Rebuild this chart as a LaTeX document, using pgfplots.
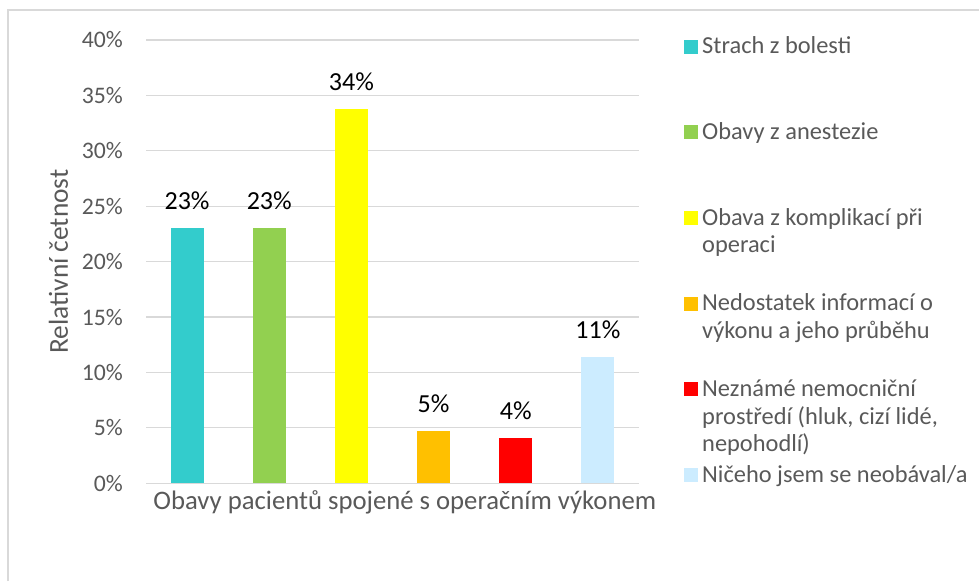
\documentclass[border=0pt]{standalone}
\usepackage{fontspec}
\setmainfont{Carlito}
\usepackage{pgfplots}
\pgfplotsset{compat=1.18}
\definecolor{txt}{HTML}{595959}
\definecolor{grd}{HTML}{D9D9D9}
\definecolor{c1}{HTML}{33CCCC}
\definecolor{c2}{HTML}{92D050}
\definecolor{c3}{HTML}{FFFF00}
\definecolor{c4}{HTML}{FFC000}
\definecolor{c5}{HTML}{FF0000}
\definecolor{c6}{HTML}{CCECFF}
% legend entries: top-aligned boxes, the rows get a fixed size below
\newcommand{\legtxt}[1]{\parbox[t]{290pt}{\raggedright\strut #1}}

\begin{document}
\fontsize{24}{27.6}\selectfont
\begin{tikzpicture}
\path[use as bounding box] (0,0) rectangle (979pt,581pt);
\draw[grd, line width=2pt] (8pt,0pt) -- (8pt,571pt) -- (979pt,571pt);
\begin{axis}[
  at={(146pt,97.7pt)}, anchor=south west,
  scale only axis, width=493pt, height=443.3pt,
  xmin=-0.5, xmax=5.5, ymin=0, ymax=40,
  xtick=\empty, ytick={0,5,...,40},
  yticklabel={\pgfmathprintnumber{\tick}\%},
  /pgf/number format/assume math mode=true,
  ymajorgrids, grid style={grd, line width=1.2pt},
  axis line style={draw=none}, major tick length=0pt,
  tick label style={font=\fontsize{23.7}{27}\selectfont, text=txt},
  yticklabel style={inner sep=0pt, xshift=-23pt},
  xlabel={Obavy pacientů spojené s operačním výkonem},
  xlabel style={at={(axis description cs:0.525,-0.058)}, anchor=base, text=txt, font=\fontsize{26.7}{30}\selectfont},
  ylabel={Relativní četnost},
  ylabel style={at={(axis description cs:-0.1775,0.5)}, anchor=center, text=txt, font=\fontsize{27.4}{31}\selectfont},
  clip=false,
  nodes near coords={\pgfmathprintnumber[fixed,precision=0]{\pgfplotspointmeta}\%},
  every node near coord/.append style={anchor=base, inner sep=0pt, yshift=18.7pt, text=black, font=\fontsize{26}{30}\selectfont},
  legend cell align=left,
  legend style={at={(rel axis cs:1.0913,1.0131)}, anchor=north west, draw=none, fill=none,
    inner sep=0pt, row sep=0pt, cells={anchor=base west},
    nodes={inner xsep=4pt, inner ysep=0pt, text=txt, text height=19.3pt, text depth=66.4pt,
      font=\fontsize{24.4}{27.6}\selectfont}},
  legend image code/.code={\fill[#1] (0pt,0pt) rectangle (14pt,14pt);},
]
\addplot[ybar, bar width=33pt, bar shift=0pt, fill=c1, draw=none] coordinates {(0,23.0)};
\addlegendentry{\legtxt{Strach z bolesti}}
\addplot[ybar, bar width=33pt, bar shift=0pt, fill=c2, draw=none] coordinates {(1,23.0)};
\addlegendentry{\legtxt{Obavy z anestezie}}
\addplot[ybar, bar width=33pt, bar shift=0pt, fill=c3, draw=none] coordinates {(2,33.8)};
\addlegendentry{\legtxt{Obava z komplikací při\\operaci}}
\addplot[ybar, bar width=33pt, bar shift=0pt, fill=c4, draw=none] coordinates {(3,4.7)};
\addlegendentry{\legtxt{Nedostatek informací o\\výkonu a jeho průběhu}}
\addplot[ybar, bar width=33pt, bar shift=0pt, fill=c5, draw=none] coordinates {(4,4.1)};
\addlegendentry{\legtxt{Neznámé nemocniční\\prostředí (hluk, cizí lidé,\\nepohodlí)}}
\addplot[ybar, bar width=33pt, bar shift=0pt, fill=c6, draw=none] coordinates {(5,11.4)};
\addlegendentry{\legtxt{Ničeho jsem se neobával/a}}
\end{axis}
\end{tikzpicture}
\end{document}
